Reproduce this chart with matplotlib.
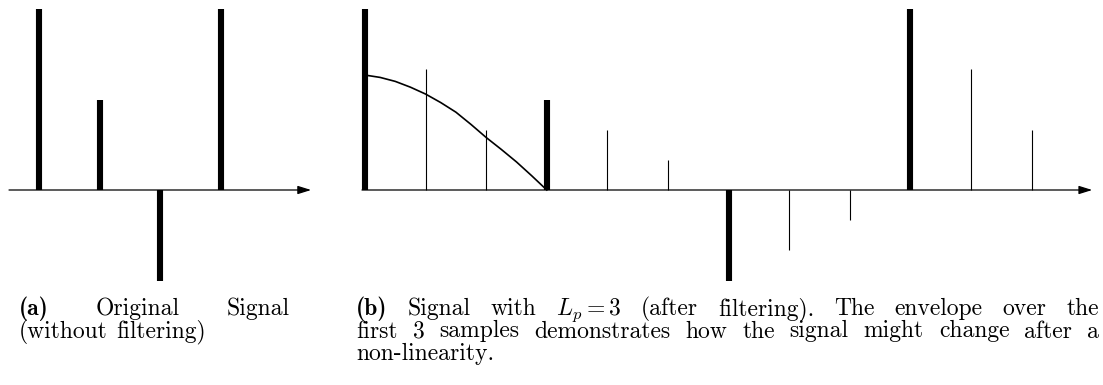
import matplotlib
matplotlib.use('Agg')
import matplotlib.pyplot as plt

plt.rcParams['mathtext.fontset'] = 'cm'

W, H = 1103, 385
DPI = 100

# original impulses (panel a)
orig_idx = [0, 1, 2, 3]
orig_vals = [1.0, 0.5, -0.5, 1.0]

# same impulses placed every L_p samples (panel b)
Lp = 3
coarse_idx = [0, 3, 6, 9]
coarse_vals = [1.0, 0.5, -0.5, 1.0]

# samples produced by the filter in between
fine_idx = [1, 2, 4, 5, 7, 8, 10, 11]
fine_vals = [0.667, 0.333, 0.333, 0.167, -0.333, -0.167, 0.667, 0.333]

# envelope over the first 3 samples
env_t = [0.0, 0.25, 0.5, 0.75, 1.0, 1.25, 1.5, 1.75, 2.0, 2.25, 2.5, 2.75, 3.0]
env_vals = [0.635, 0.622, 0.60, 0.568, 0.53, 0.483, 0.43, 0.362, 0.29,
            0.224, 0.155, 0.079, 0.0]

px_per_sample = 60.6
px_per_unit = 181.0
axis_row = 190
panel_h = 290


def make_axes(fig, left_px, width_px, first_px):
    ax = fig.add_axes([left_px / W, 1 - panel_h / H, width_px / W, panel_h / H])
    x0 = (left_px - first_px) / px_per_sample
    ax.set_xlim(x0, x0 + width_px / px_per_sample)
    ax.set_ylim(-(panel_h - axis_row) / px_per_unit, axis_row / px_per_unit)
    ax.axis('off')
    return ax


def time_axis(ax, start, end):
    ax.annotate('', xy=(end, 0), xytext=(start, 0),
                arrowprops=dict(arrowstyle='-|>,head_length=0.8,head_width=0.25',
                                color='black', lw=0.9, shrinkA=0, shrinkB=0))


def put_line(fig, words, x0, x1, y, size, justify=True, space=0.36):
    r = fig.canvas.get_renderer()
    texts = [fig.text(0, 1 - y / H, w, fontname=f, fontsize=size,
                      va='baseline', ha='left') for w, f in words]
    widths = [t.get_window_extent(r).width for t in texts]
    if justify and len(texts) > 1:
        gap = (x1 - x0 - sum(widths)) / (len(texts) - 1)
    else:
        gap = space * size * DPI / 72
    x = x0
    for t, w in zip(texts, widths):
        t.set_x(x / W)
        x += w + gap


fig = plt.figure(figsize=(W / DPI, H / DPI), dpi=DPI)

# (a) original signal
ax1 = make_axes(fig, 0, 340, 39)
time_axis(ax1, -0.495, 4.49)
ax1.vlines(orig_idx, 0, orig_vals, colors='black', lw=4.4, capstyle='butt')

# (b) filtered signal
ax2 = make_axes(fig, 340, 763, 365)
time_axis(ax2, -0.05, 12.0)
ax2.vlines(coarse_idx, 0, coarse_vals, colors='black', lw=4.4, capstyle='butt')
ax2.vlines(fine_idx, 0, fine_vals, colors='black', lw=0.8, capstyle='butt')
ax2.plot(env_t, env_vals, color='black', lw=1.2, solid_joinstyle='round')

# captions
rm, bf = 'cmr10', 'cmb10'
fs = 17
put_line(fig, [('(a)', bf), ('Original', rm), ('Signal', rm)], 19, 290, 315, fs)
put_line(fig, [('(without', rm), ('filtering)', rm)], 19, 290, 337.5, fs,
         justify=False)

line1 = [('(b)', bf)] + [(w, rm) for w in
                         ['Signal', 'with', '$L_p = 3$', '(after', 'filtering).',
                          'The', 'envelope', 'over', 'the']]
line2 = [(w, rm) for w in
         'first 3 samples demonstrates how the signal might change after a'.split()]
put_line(fig, line1, 356, 1099, 315, fs)
put_line(fig, line2, 356, 1099, 337.5, fs)
put_line(fig, [('non-linearity.', rm)], 356, 1099, 360, fs, justify=False)

fig.savefig('out.png', dpi=DPI, facecolor='w')
